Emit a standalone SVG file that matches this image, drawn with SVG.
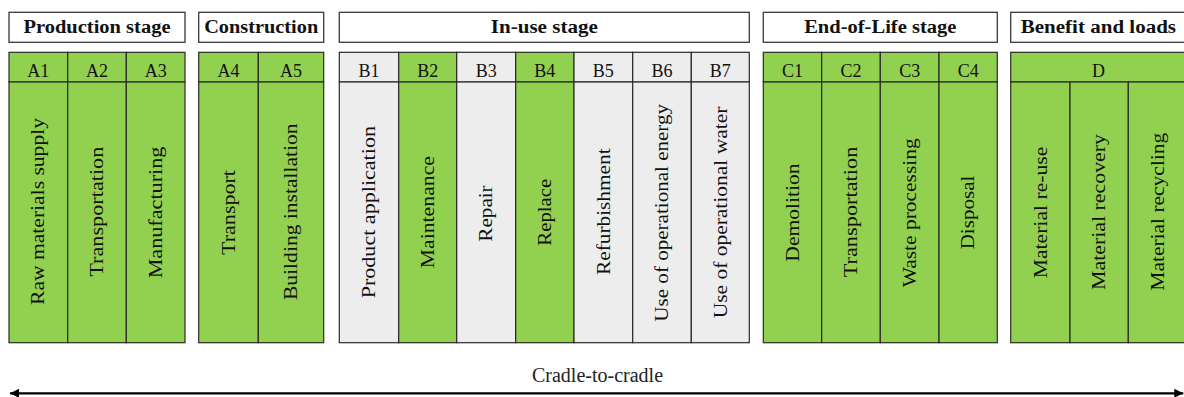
<svg xmlns="http://www.w3.org/2000/svg" width="1184" height="397" viewBox="0 0 1184 397">
<style>
.hdr{fill:#fff;stroke:#3a3a3a;stroke-width:1.3}
.g{fill:#92d050;stroke:#2a2a2a;stroke-width:1.2}
.w{fill:#ededed;stroke:#2a2a2a;stroke-width:1.2}
.ht{font-family:"Liberation Serif",serif;font-weight:bold;font-size:18px;fill:#111;text-anchor:middle}
.ct{font-family:"Liberation Serif",serif;font-size:18px;fill:#111;text-anchor:middle}
.vt{font-family:"Liberation Serif",serif;font-size:18px;fill:#111;text-anchor:middle}
.lbl{font-family:"Liberation Serif",serif;font-size:20px;fill:#222;text-anchor:middle}
</style>
<defs>
<marker id="ah" viewBox="0 0 10 10" refX="10" refY="5" markerWidth="10" markerHeight="9" markerUnits="userSpaceOnUse" orient="auto-start-reverse">
<path d="M0,0 L10,5 L0,10 z" fill="#000"/>
</marker>
</defs>

<g id="production">
<rect class="hdr" x="9" y="12.3" width="176" height="30"/>
<text class="ht" x="97" y="33.3" textLength="147" lengthAdjust="spacingAndGlyphs">Production stage</text>
<rect class="g" x="9" y="52.3" width="58.7" height="29.7"/>
<rect class="g" x="67.7" y="52.3" width="58.6" height="29.7"/>
<rect class="g" x="126.3" y="52.3" width="58.7" height="29.7"/>
<rect class="g" x="9" y="82" width="58.7" height="260.7"/>
<rect class="g" x="67.7" y="82" width="58.6" height="260.7"/>
<rect class="g" x="126.3" y="82" width="58.7" height="260.7"/>
<text class="ct" x="38.3" y="76.7">A1</text>
<text class="ct" x="97" y="76.7">A2</text>
<text class="ct" x="155.7" y="76.7">A3</text>
<text class="vt" transform="translate(44.4,211.5) rotate(-90)" textLength="187" lengthAdjust="spacingAndGlyphs">Raw materials supply</text>
<text class="vt" transform="translate(103.2,211.7) rotate(-90)" textLength="130" lengthAdjust="spacingAndGlyphs">Transportation</text>
<text class="vt" transform="translate(161.9,212.5) rotate(-90)" textLength="131.7" lengthAdjust="spacingAndGlyphs">Manufacturing</text>
</g>

<g id="construction">
<rect class="hdr" x="198.7" y="12.3" width="125" height="30"/>
<text class="ht" x="261.2" y="33.3" textLength="114" lengthAdjust="spacingAndGlyphs">Construction</text>
<rect class="g" x="198.7" y="52.3" width="59.6" height="29.7"/>
<rect class="g" x="258.3" y="52.3" width="65.4" height="29.7"/>
<rect class="g" x="198.7" y="82" width="59.6" height="260.7"/>
<rect class="g" x="258.3" y="82" width="65.4" height="260.7"/>
<text class="ct" x="228.5" y="76.7">A4</text>
<text class="ct" x="291" y="76.7">A5</text>
<text class="vt" transform="translate(234.7,212.5) rotate(-90)" textLength="85" lengthAdjust="spacingAndGlyphs">Transport</text>
<text class="vt" transform="translate(297.2,211.7) rotate(-90)" textLength="176.7" lengthAdjust="spacingAndGlyphs">Building installation</text>
</g>

<g id="in-use">
<rect class="hdr" x="339.3" y="12.3" width="410" height="30"/>
<text class="ht" x="544.3" y="33.3" textLength="107" lengthAdjust="spacingAndGlyphs">In-use stage</text>
<rect class="w" x="339.3" y="52.3" width="59.4" height="29.7"/>
<rect class="g" x="398.7" y="52.3" width="58" height="29.7"/>
<rect class="w" x="456.7" y="52.3" width="59" height="29.7"/>
<rect class="g" x="515.7" y="52.3" width="58.3" height="29.7"/>
<rect class="w" x="574" y="52.3" width="58.7" height="29.7"/>
<rect class="w" x="632.7" y="52.3" width="58.6" height="29.7"/>
<rect class="w" x="691.3" y="52.3" width="58" height="29.7"/>
<rect class="w" x="339.3" y="82" width="59.4" height="260.7"/>
<rect class="g" x="398.7" y="82" width="58" height="260.7"/>
<rect class="w" x="456.7" y="82" width="59" height="260.7"/>
<rect class="g" x="515.7" y="82" width="58.3" height="260.7"/>
<rect class="w" x="574" y="82" width="58.7" height="260.7"/>
<rect class="w" x="632.7" y="82" width="58.6" height="260.7"/>
<rect class="w" x="691.3" y="82" width="58" height="260.7"/>
<text class="ct" x="369" y="76.7">B1</text>
<text class="ct" x="427.7" y="76.7">B2</text>
<text class="ct" x="486.2" y="76.7">B3</text>
<text class="ct" x="544.8" y="76.7">B4</text>
<text class="ct" x="603.3" y="76.7">B5</text>
<text class="ct" x="662" y="76.7">B6</text>
<text class="ct" x="720.3" y="76.7">B7</text>
<text class="vt" transform="translate(375.2,212.2) rotate(-90)" textLength="172.3" lengthAdjust="spacingAndGlyphs">Product application</text>
<text class="vt" transform="translate(433.9,212.2) rotate(-90)" textLength="112.3" lengthAdjust="spacingAndGlyphs">Maintenance</text>
<text class="vt" transform="translate(492.4,213.5) rotate(-90)" textLength="56.3" lengthAdjust="spacingAndGlyphs">Repair</text>
<text class="vt" transform="translate(551,212.2) rotate(-90)" textLength="67" lengthAdjust="spacingAndGlyphs">Replace</text>
<text class="vt" transform="translate(609.5,211.7) rotate(-90)" textLength="126.7" lengthAdjust="spacingAndGlyphs">Refurbishment</text>
<text class="vt" transform="translate(668.2,212.8) rotate(-90)" textLength="217.7" lengthAdjust="spacingAndGlyphs">Use of operational energy</text>
<text class="vt" transform="translate(726.5,212.5) rotate(-90)" textLength="211.7" lengthAdjust="spacingAndGlyphs">Use of operational water</text>
</g>

<g id="end-of-life">
<rect class="hdr" x="763.3" y="12.3" width="234" height="30"/>
<text class="ht" x="880.3" y="33.3" textLength="152.3" lengthAdjust="spacingAndGlyphs">End-of-Life stage</text>
<rect class="g" x="763.3" y="52.3" width="58.4" height="29.7"/>
<rect class="g" x="821.7" y="52.3" width="58.6" height="29.7"/>
<rect class="g" x="880.3" y="52.3" width="58.7" height="29.7"/>
<rect class="g" x="939" y="52.3" width="58.3" height="29.7"/>
<rect class="g" x="763.3" y="82" width="58.4" height="260.7"/>
<rect class="g" x="821.7" y="82" width="58.6" height="260.7"/>
<rect class="g" x="880.3" y="82" width="58.7" height="260.7"/>
<rect class="g" x="939" y="82" width="58.3" height="260.7"/>
<text class="ct" x="792.5" y="76.7">C1</text>
<text class="ct" x="851" y="76.7">C2</text>
<text class="ct" x="909.7" y="76.7">C3</text>
<text class="ct" x="968.2" y="76.7">C4</text>
<text class="vt" transform="translate(798.7,212.5) rotate(-90)" textLength="98.3" lengthAdjust="spacingAndGlyphs">Demolition</text>
<text class="vt" transform="translate(857.2,212) rotate(-90)" textLength="130.7" lengthAdjust="spacingAndGlyphs">Transportation</text>
<text class="vt" transform="translate(915.9,212.8) rotate(-90)" textLength="149" lengthAdjust="spacingAndGlyphs">Waste processing</text>
<text class="vt" transform="translate(974.4,212.5) rotate(-90)" textLength="73.7" lengthAdjust="spacingAndGlyphs">Disposal</text>
</g>

<g id="benefit">
<rect class="hdr" x="1010.7" y="12.3" width="176" height="30"/>
<text class="ht" x="1098.4" y="33.3" textLength="155.3" lengthAdjust="spacingAndGlyphs">Benefit and loads</text>
<rect class="g" x="1010.7" y="52.3" width="176" height="29.7"/>
<rect class="g" x="1010.7" y="82" width="59.3" height="260.7"/>
<rect class="g" x="1070" y="82" width="58.3" height="260.7"/>
<rect class="g" x="1128.3" y="82" width="58.4" height="260.7"/>
<text class="ct" x="1098.4" y="76.7">D</text>
<text class="vt" transform="translate(1046.5,212.5) rotate(-90)" textLength="131.7" lengthAdjust="spacingAndGlyphs">Material re-use</text>
<text class="vt" transform="translate(1105.3,212) rotate(-90)" textLength="156" lengthAdjust="spacingAndGlyphs">Material recovery</text>
<text class="vt" transform="translate(1163.7,211.7) rotate(-90)" textLength="158" lengthAdjust="spacingAndGlyphs">Material recycling</text>
</g>

<g id="connectors">
<line x1="10" y1="393.3" x2="1183.3" y2="393.3" stroke="#000" stroke-width="2.2" marker-start="url(#ah)" marker-end="url(#ah)"/>
<text class="lbl" x="597.5" y="381.7">Cradle-to-cradle</text>
</g>
</svg>
